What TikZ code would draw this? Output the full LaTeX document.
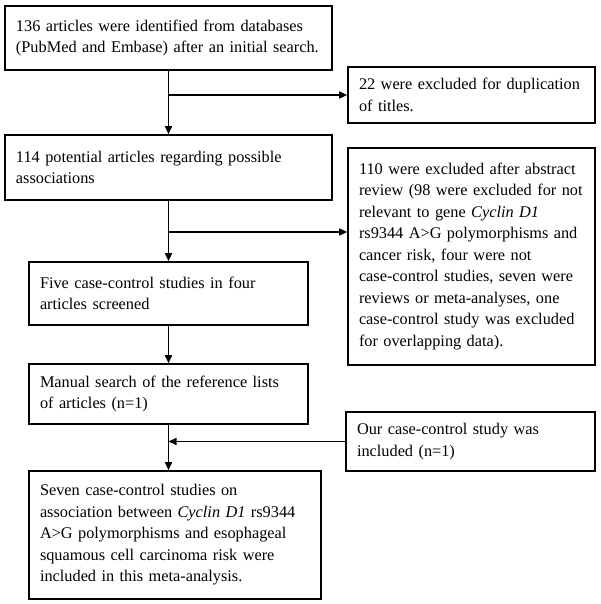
\documentclass[tikz,border=0pt]{standalone}
\usepackage{fontspec}
\setmainfont{Liberation Serif}
\usetikzlibrary{arrows.meta}
\newcommand{\oneline}[1]{\mbox{#1}}
\begin{document}
\begin{tikzpicture}[x=1pt,y=-1pt,
  box/.style={draw,line width=1.6pt,rectangle,align=left,inner xsep=11pt,inner ysep=0pt,
    font=\fontsize{16.3}{21.5}\selectfont},
  conn/.style={line width=1.6pt,-{Triangle[length=8pt,width=7pt]}},
  plain/.style={line width=1.6pt}]
\useasboundingbox (0,0) rectangle (600,604);
\node[box,minimum width=327pt,minimum height=64pt,text width=305pt] (b1) at (168.5,38)
  {\oneline{136 articles were identified from databases}\\\oneline{(PubMed and Embase) after an initial search.}};
\node[box,minimum width=247pt,minimum height=56pt,text width=225pt] (b2) at (471.5,95)
  {\oneline{22 were excluded for duplication}\\\oneline{of titles.}};
\node[box,minimum width=327pt,minimum height=65pt,text width=305pt] (b3) at (168.5,167.5)
  {\oneline{114 potential articles regarding possible}\\\oneline{associations}};
\node[box,minimum width=247pt,minimum height=217pt,text width=225pt] (b4) at (471.5,256.5)
  {\oneline{110 were excluded after abstract}\\\oneline{review (98 were excluded for not}\\\oneline{relevant to gene \textit{Cyclin D1}}\\\oneline{rs9344 A>G polymorphisms and}\\\oneline{cancer risk, four were not}\\\oneline{case-control studies, seven were}\\\oneline{reviews or meta-analyses, one}\\\oneline{case-control study was excluded}\\\oneline{for overlapping data).}};
\node[box,minimum width=279pt,minimum height=63pt,text width=257pt] (b5) at (168.5,293.5)
  {\oneline{Five case-control studies in four}\\\oneline{articles screened}};
\node[box,minimum width=279pt,minimum height=60pt,text width=257pt] (b6) at (168.5,394)
  {\oneline{Manual search of the reference lists}\\\oneline{of articles (n=1)}};
\node[box,minimum width=292pt,minimum height=128pt,text width=270pt] (b7) at (175,535)
  {\oneline{Seven case-control studies on}\\\oneline{association between \textit{Cyclin D1} rs9344}\\\oneline{A>G polymorphisms and esophageal}\\\oneline{squamous cell carcinoma risk were}\\\oneline{included in this meta-analysis.}};
\node[box,minimum width=249pt,minimum height=59pt,text width=227pt] (b8) at (470.5,441.5)
  {\oneline{Our case-control study was}\\\oneline{included (n=1)}};
\coordinate (j1) at (b1.south |- b2.west);
\coordinate (j2) at (168.5,232);
\draw[conn] (b1.south) -- (b3.north);
\draw[conn] (j1) -- (b2.west);
\draw[conn] (b3.south) -- (b5.north);
\draw[conn] (j2) -- (b4.west |- j2);
\draw[conn] (b5.south) -- (b6.north);
\draw[conn] (b6.south) -- (b6.south |- b7.north);
\draw[conn] (b8.west) -- (b6.south |- b8.west);
\end{tikzpicture}
\end{document}
